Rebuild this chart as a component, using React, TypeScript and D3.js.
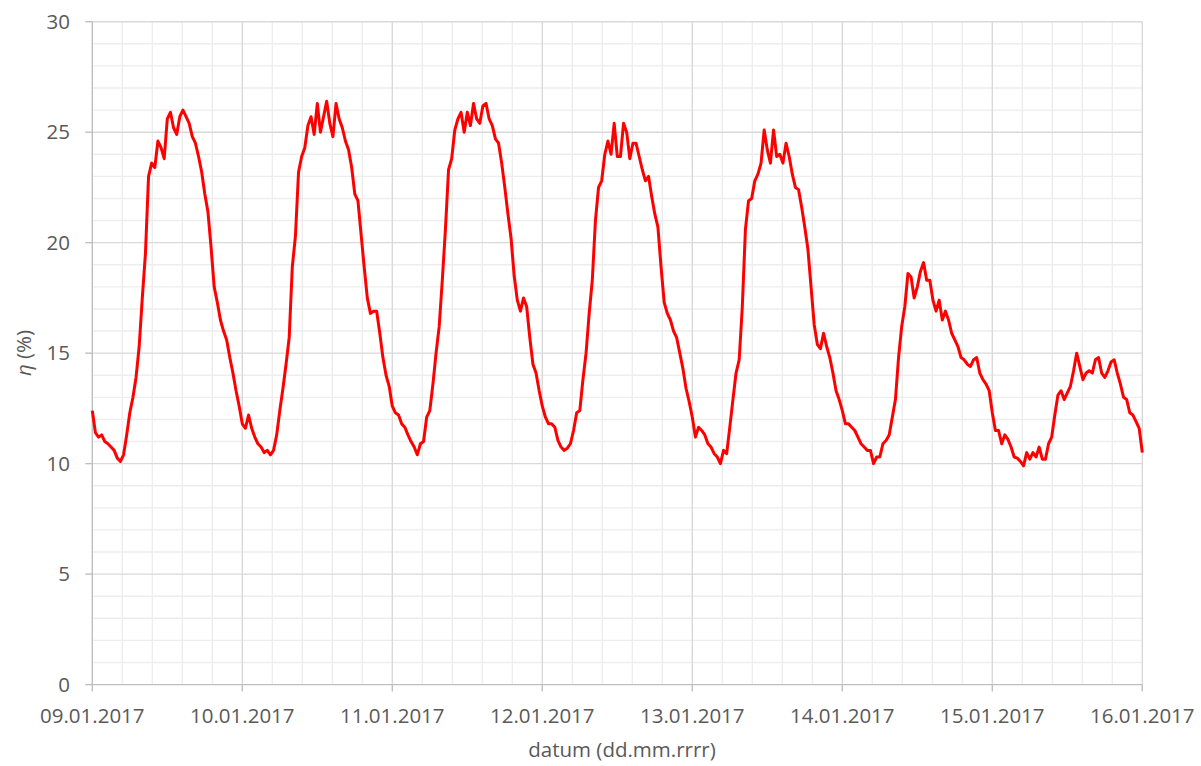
import React from "react";
import * as d3 from "d3";

// Half-hourly efficiency values (%), one array per day
const day09 = [12.4, 11.4, 11.2, 11.3, 11.0, 10.9, 10.75, 10.6, 10.25, 10.1, 10.4, 11.3, 12.3, 13.0, 13.9, 15.3, 17.5, 19.5, 23.0, 23.6, 23.4, 24.6, 24.3, 23.8, 25.6, 25.9, 25.2, 24.9, 25.7, 26.0, 25.7, 25.4, 24.8, 24.5, 23.9, 23.2, 22.2, 21.4, 19.8, 18.0, 17.3, 16.5, 16.0, 15.6, 14.8, 14.1, 13.3, 12.6];
const day10 = [11.8, 11.6, 12.2, 11.6, 11.2, 10.9, 10.75, 10.5, 10.6, 10.4, 10.6, 11.3, 12.4, 13.4, 14.5, 15.7, 18.9, 20.3, 23.2, 23.9, 24.3, 25.3, 25.7, 24.9, 26.3, 25.0, 25.7, 26.4, 25.4, 24.8, 26.3, 25.6, 25.2, 24.6, 24.2, 23.4, 22.2, 21.9, 20.4, 18.9, 17.5, 16.8, 16.9, 16.9, 15.9, 14.8, 14.0, 13.5];
const day11 = [12.6, 12.3, 12.2, 11.8, 11.65, 11.3, 11.0, 10.75, 10.4, 10.9, 11.0, 12.1, 12.4, 13.6, 15.0, 16.2, 18.3, 20.6, 23.3, 23.8, 25.1, 25.6, 25.9, 25.0, 25.9, 25.3, 26.3, 25.6, 25.4, 26.2, 26.3, 25.6, 25.3, 24.7, 24.5, 23.6, 22.5, 21.3, 20.2, 18.5, 17.4, 16.9, 17.5, 17.1, 15.7, 14.5, 14.1, 13.3];
const day12 = [12.6, 12.1, 11.8, 11.8, 11.65, 11.05, 10.75, 10.6, 10.7, 10.9, 11.5, 12.3, 12.4, 13.8, 15.0, 16.8, 18.3, 21.0, 22.5, 22.8, 24.0, 24.6, 24.0, 25.4, 23.9, 23.9, 25.4, 25.0, 23.8, 24.5, 24.5, 23.9, 23.3, 22.8, 23.0, 22.1, 21.3, 20.7, 18.9, 17.3, 16.8, 16.5, 16.0, 15.7, 15.0, 14.3, 13.4, 12.8];
const day13 = [12.1, 11.2, 11.65, 11.5, 11.3, 10.9, 10.75, 10.45, 10.3, 10.0, 10.6, 10.45, 11.65, 12.9, 14.1, 14.7, 17.1, 20.6, 21.9, 22.0, 22.8, 23.1, 23.6, 25.1, 24.2, 23.6, 25.1, 23.9, 24.0, 23.6, 24.5, 23.9, 23.1, 22.5, 22.4, 21.6, 20.7, 19.7, 18.0, 16.3, 15.4, 15.2, 15.9, 15.3, 14.8, 14.1, 13.3, 12.9];
const day14 = [12.4, 11.8, 11.8, 11.65, 11.5, 11.2, 10.9, 10.75, 10.6, 10.6, 10.0, 10.3, 10.3, 10.9, 11.05, 11.3, 12.1, 12.9, 14.8, 16.2, 17.1, 18.6, 18.45, 17.5, 18.0, 18.7, 19.1, 18.3, 18.3, 17.4, 16.9, 17.4, 16.5, 16.9, 16.5, 15.9, 15.6, 15.3, 14.8, 14.7, 14.5, 14.4, 14.7, 14.8, 14.1, 13.8, 13.6, 13.3];
const day15 = [12.3, 11.5, 11.5, 10.9, 11.3, 11.1, 10.75, 10.3, 10.25, 10.1, 9.9, 10.5, 10.2, 10.5, 10.3, 10.75, 10.2, 10.2, 10.9, 11.2, 12.2, 13.1, 13.3, 12.9, 13.2, 13.5, 14.2, 15.0, 14.4, 13.8, 14.1, 14.2, 14.1, 14.7, 14.8, 14.1, 13.9, 14.2, 14.6, 14.7, 14.1, 13.6, 13.0, 12.9, 12.3, 12.2, 11.9, 11.6];
const lastValue = 10.5;

const dayStarts = ["2017-01-09", "2017-01-10", "2017-01-11", "2017-01-12", "2017-01-13", "2017-01-14", "2017-01-15", "2017-01-16"];
const yTicks = [0, 5, 10, 15, 20, 25, 30];
const xTitle = "datum (dd.mm.rrrr)";
const yTitleSymbol = "η";
const yTitleUnit = " (%)";

const W = 1201;
const H = 766;
const margin = { left: 92.3, right: 1142.3, top: 21.7, bottom: 684.6 };
const FONT = "'Open Sans', 'Noto Sans', sans-serif";
const TEXT = "#595959";

function parseDay(s: string): Date {
  const [y, m, d] = s.split("-").map(Number);
  return new Date(y, m - 1, d);
}

export default function App() {
  const start = parseDay(dayStarts[0]);
  const end = parseDay(dayStarts[dayStarts.length - 1]);
  const x = d3.scaleTime().domain([start, end]).range([margin.left, margin.right]);
  const y = d3.scaleLinear().domain([0, 30]).range([margin.bottom, margin.top]);

  const days = [day09, day10, day11, day12, day13, day14, day15];
  const points: { t: Date; v: number }[] = [];
  days.forEach((arr, di) => {
    const d0 = parseDay(dayStarts[di]);
    arr.forEach((v, i) => {
      points.push({ t: new Date(d0.getTime() + i * 30 * 60 * 1000), v });
    });
  });
  points.push({ t: end, v: lastValue });

  const line = d3
    .line<{ t: Date; v: number }>()
    .x((d) => x(d.t))
    .y((d) => y(d.v));

  const dayTicks = dayStarts.map(parseDay);
  // minor vertical grid every 0.2 day
  const minorX: Date[] = [];
  for (let i = 0; i < dayTicks.length - 1; i++) {
    for (let k = 1; k < 5; k++) {
      minorX.push(new Date(dayTicks[i].getTime() + k * 0.2 * 86400000));
    }
  }
  const minorY = d3.range(0, 31, 1).filter((v) => v % 5 !== 0);
  const fmt = d3.timeFormat("%d.%m.%Y");

  return (
    <svg width={W} height={H} style={{ position: "absolute", left: 0, top: 0, background: "#fff" }}>
      <rect x={0} y={0} width={W} height={H} fill="#fff" />
      {minorY.map((v) => (
        <line key={"my" + v} x1={margin.left} x2={margin.right} y1={y(v)} y2={y(v)} stroke="#ededed" strokeWidth={1.4} />
      ))}
      {minorX.map((d, i) => (
        <line key={"mx" + i} x1={x(d)} x2={x(d)} y1={margin.top} y2={margin.bottom} stroke="#ededed" strokeWidth={1.4} />
      ))}
      {yTicks.filter((v) => v > 0).map((v) => (
        <line key={"gy" + v} x1={margin.left} x2={margin.right} y1={y(v)} y2={y(v)} stroke="#d9d9d9" strokeWidth={1.4} />
      ))}
      {dayTicks.slice(1).map((d, i) => (
        <line key={"gx" + i} x1={x(d)} x2={x(d)} y1={margin.top} y2={margin.bottom} stroke="#d9d9d9" strokeWidth={1.4} />
      ))}
      {/* axes */}
      <line x1={margin.left} x2={margin.left} y1={margin.top} y2={margin.bottom} stroke="#bfbfbf" strokeWidth={1.4} />
      <line x1={margin.left} x2={margin.right} y1={margin.bottom} y2={margin.bottom} stroke="#bfbfbf" strokeWidth={1.4} />
      {yTicks.map((v) => (
        <line key={"ty" + v} x1={margin.left - 7} x2={margin.left} y1={y(v)} y2={y(v)} stroke="#bfbfbf" strokeWidth={1.4} />
      ))}
      {dayTicks.map((d, i) => (
        <line key={"tx" + i} x1={x(d)} x2={x(d)} y1={margin.bottom} y2={margin.bottom + 7} stroke="#bfbfbf" strokeWidth={1.4} />
      ))}
      {yTicks.map((v) => (
        <text key={"ly" + v} x={70} y={y(v) + 7} textAnchor="end" fontFamily={FONT} fontSize={20.5} fill={TEXT}>
          {v}
        </text>
      ))}
      {dayTicks.map((d, i) => (
        <text key={"lx" + i} x={x(d)} y={723} textAnchor="middle" fontFamily={FONT} fontSize={20.5} fill={TEXT}>
          {fmt(d)}
        </text>
      ))}
      <text x={622} y={757} textAnchor="middle" fontFamily={FONT} fontSize={20.5} fill={TEXT}>
        {xTitle}
      </text>
      <text transform="translate(31,353) rotate(-90)" textAnchor="middle" fontFamily={FONT} fontSize={20.5} fill={TEXT}>
        <tspan fontStyle="italic">{yTitleSymbol}</tspan>
        <tspan>{yTitleUnit}</tspan>
      </text>
      <path d={line(points) || ""} fill="none" stroke="#ff0000" strokeWidth={3} strokeLinejoin="round" />
    </svg>
  );
}
